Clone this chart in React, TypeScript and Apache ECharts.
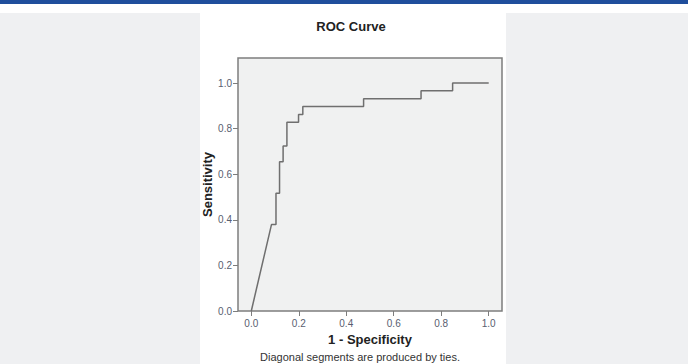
import React, { useEffect, useRef } from 'react';
import * as echarts from 'echarts';

// ROC curve points (1 - specificity, sensitivity)
const fpr = [0, 0.085, 0.104, 0.104, 0.119, 0.119, 0.134, 0.134, 0.150, 0.150, 0.199, 0.199, 0.217, 0.217, 0.473, 0.473, 0.715, 0.715, 0.848, 0.848, 1.0];
const tpr = [0, 0.379, 0.379, 0.517, 0.517, 0.655, 0.655, 0.724, 0.724, 0.828, 0.828, 0.862, 0.862, 0.897, 0.897, 0.931, 0.931, 0.966, 0.966, 1.0, 1.0];

const xTicks = [0, 0.2, 0.4, 0.6, 0.8, 1.0];
const yTicks = [0, 0.2, 0.4, 0.6, 0.8, 1.0];

const titleText = 'ROC Curve';
const xName = '1 - Specificity';
const yName = 'Sensitivity';
const footnote = 'Diagonal segments are produced by ties.';

const FONT = '"Liberation Sans", Arial, Helvetica, sans-serif';

export default function App() {
  const ref = useRef<HTMLDivElement>(null);

  useEffect(() => {
    document.body.style.margin = '0';
    const chart = echarts.init(ref.current as HTMLDivElement, null, { renderer: 'svg' });
    const data = fpr.map((x, i) => [x, tpr[i]]);
    chart.setOption({
      animation: false,
      backgroundColor: 'transparent',
      textStyle: { fontFamily: FONT },
      grid: {
        left: 238,
        top: 58,
        right: 186,
        bottom: 53,
        show: true,
        backgroundColor: '#f0f1f1',
        borderColor: '#7d7d7d',
        borderWidth: 1.5,
      },
      xAxis: {
        type: 'value',
        min: -0.056,
        max: 1.056,
        name: xName,
        nameLocation: 'middle',
        nameGap: 20,
        nameTextStyle: { fontFamily: FONT, fontSize: 13, fontWeight: 'bold', color: '#222' },
        axisLine: { show: false, onZero: false },
        splitLine: { show: false },
        axisTick: { show: true, length: 5, inside: false, customValues: xTicks, lineStyle: { color: '#7d7d7d', width: 1 } },
        axisLabel: {
          customValues: xTicks,
          margin: 7,
          fontSize: 10,
          color: '#585e70',
          fontFamily: FONT,
          formatter: (v: number) => v.toFixed(1),
        },
      },
      yAxis: {
        type: 'value',
        min: 0,
        max: 1.11,
        name: yName,
        nameLocation: 'middle',
        nameGap: 23,
        nameRotate: 90,
        nameTextStyle: { fontFamily: FONT, fontSize: 13, fontWeight: 'bold', color: '#222' },
        axisLine: { show: false, onZero: false },
        splitLine: { show: false },
        axisTick: { show: true, length: 5, inside: false, customValues: yTicks, lineStyle: { color: '#7d7d7d', width: 1 } },
        axisLabel: {
          customValues: yTicks,
          margin: 6,
          fontSize: 10,
          color: '#585e70',
          fontFamily: FONT,
          formatter: (v: number) => v.toFixed(1),
        },
      },
      graphic: [
        {
          type: 'text',
          x: 351,
          y: 26,
          style: {
            text: titleText,
            fontFamily: FONT,
            fontSize: 13,
            fontWeight: 'bold',
            fill: '#222',
            textAlign: 'center',
            textVerticalAlign: 'middle',
          },
        },
        {
          type: 'text',
          x: 360,
          y: 357,
          style: {
            text: footnote,
            fontFamily: FONT,
            fontSize: 11,
            fill: '#333',
            textAlign: 'center',
            textVerticalAlign: 'middle',
          },
        },
      ],
      series: [
        {
          type: 'line',
          data,
          showSymbol: false,
          symbol: 'none',
          lineStyle: { color: '#6f6f6f', width: 1.5 },
          silent: true,
        },
      ],
    });
    return () => chart.dispose();
  }, []);

  return (
    <div style={{ position: 'relative', width: 688, height: 364, background: '#eff0f2', overflow: 'hidden' }}>
      <div style={{ position: 'absolute', left: 0, top: 0, width: 688, height: 4, background: '#1f4e9c' }} />
      <div style={{ position: 'absolute', left: 0, top: 4, width: 688, height: 9, background: '#ffffff' }} />
      <div style={{ position: 'absolute', left: 200, top: 13, width: 306, height: 351, background: '#ffffff' }} />
      <div ref={ref} style={{ position: 'absolute', left: 0, top: 0, width: 688, height: 364 }} />
    </div>
  );
}
